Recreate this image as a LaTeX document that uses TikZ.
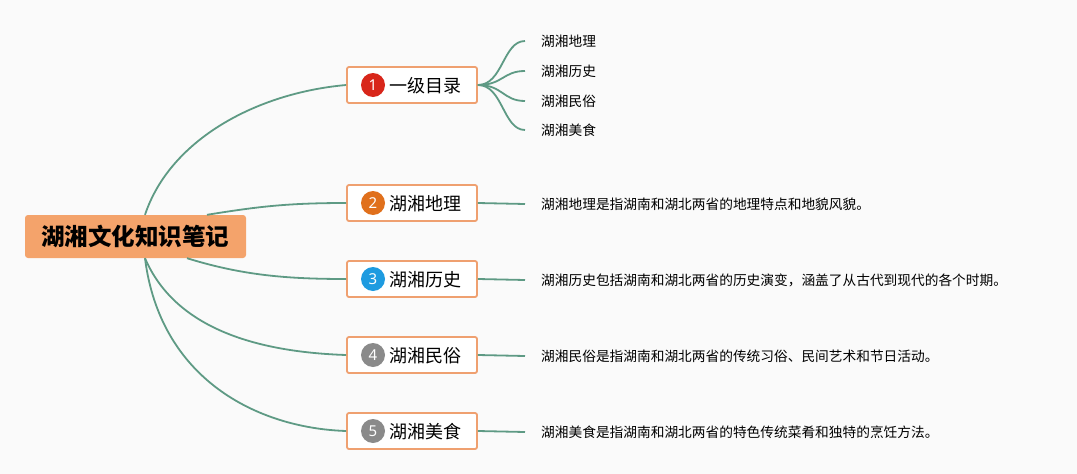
\documentclass[tikz,border=0pt]{standalone}
\usepackage{fontspec}
\setmainfont{Noto Sans CJK SC}
\newfontfamily\numfont{Noto Sans}
\definecolor{bg}{HTML}{FAFAFA}
\definecolor{rootc}{HTML}{F4A36B}
\definecolor{boxc}{HTML}{EFA070}
\definecolor{linec}{HTML}{5E9A84}
\definecolor{n1}{HTML}{D8261A}
\definecolor{n2}{HTML}{E0701C}
\definecolor{n3}{HTML}{1E9BE0}
\definecolor{n4}{HTML}{8A8A8A}
\tikzset{
  rootbox/.style={fill=rootc, rounded corners=3pt, minimum width=221pt, minimum height=43pt, inner sep=0pt, font=\fontsize{23.5}{25}\selectfont\bfseries, text=black},
  branchbox/.style={draw=boxc, line width=1.8pt, fill=white, rounded corners=2pt, minimum width=130pt, minimum height=36pt, inner sep=0pt},
  numc/.style={circle, minimum size=24pt, inner sep=0pt, text=white, font=\numfont\fontsize{15}{15}\selectfont},
  btext/.style={anchor=west, inner sep=0pt, font=\fontsize{18}{19}\selectfont},
  stext/.style={anchor=west, inner sep=0pt, font=\fontsize{13.7}{14}\selectfont},
  conn/.style={draw=linec, line width=1.8pt},
}
\begin{document}
\begin{tikzpicture}[x=1pt,y=-1pt]
\fill[bg] (0,0) rectangle (1077,474);
\useasboundingbox (0,0) rectangle (1077,474);

% root
\node[rootbox] (root) at (135.5,236.5) {湖湘文化知识笔记};

% branch boxes
\node[branchbox] (b1) at (412,85) {};
\node[branchbox] (b2) at (412,203) {};
\node[branchbox] (b3) at (412,279) {};
\node[branchbox] (b4) at (412,355) {};
\node[branchbox] (b5) at (412,431) {};

\node[numc, fill=n1] (c1) at (373,85) {1};
\node[numc, fill=n2] (c2) at (373,203) {2};
\node[numc, fill=n3] (c3) at (373,279) {3};
\node[numc, fill=n4] (c4) at (373,355) {4};
\node[numc, fill=n4] (c5) at (373,431) {5};

\node[btext] (t1) at (389,86) {一级目录};
\node[btext] (t2) at (389,204) {湖湘地理};
\node[btext] (t3) at (389,280) {湖湘历史};
\node[btext] (t4) at (389,356) {湖湘民俗};
\node[btext] (t5) at (389,432) {湖湘美食};

% sub items
\node[stext] (s1) at (541,41) {湖湘地理};
\node[stext] (s2) at (541,71) {湖湘历史};
\node[stext] (s3) at (541,101) {湖湘民俗};
\node[stext] (s4) at (541,130) {湖湘美食};

\node[stext] (d2) at (541,204) {湖湘地理是指湖南和湖北两省的地理特点和地貌风貌。};
\node[stext] (d3) at (541,280) {湖湘历史包括湖南和湖北两省的历史演变，涵盖了从古代到现代的各个时期。};
\node[stext] (d4) at (541,356) {湖湘民俗是指湖南和湖北两省的传统习俗、民间艺术和节日活动。};
\node[stext] (d5) at (541,432) {湖湘美食是指湖南和湖北两省的特色传统菜肴和独特的烹饪方法。};

% root connectors
\draw[conn] ([xshift=9.5pt]root.north) .. controls +(25,-75) and +(-90,8) .. (b1.west);
\draw[conn] ([xshift=71.5pt]root.north) .. controls +(50,-8) and +(-60,0) .. (b2.west);
\draw[conn] ([xshift=51.5pt]root.south) .. controls +(55,17) and +(-60,0) .. (b3.west);
\draw[conn] ([xshift=9.5pt]root.south) .. controls +(30,70) and +(-90,-3) .. (b4.west);
\draw[conn] ([xshift=9.5pt]root.south) .. controls +(15,120) and +(-90,-3) .. (b5.west);

% sub connectors
\draw[conn] (b1.east) .. controls +(25,0) and +(-22,0) .. ([xshift=-16pt]s1.west);
\draw[conn] (b1.east) .. controls +(25,0) and +(-22,0) .. ([xshift=-16pt]s2.west);
\draw[conn] (b1.east) .. controls +(25,0) and +(-22,0) .. ([xshift=-16pt]s3.west);
\draw[conn] (b1.east) .. controls +(25,0) and +(-22,0) .. ([xshift=-16pt]s4.west);

\draw[conn] (b2.east) -- ([xshift=-16pt]d2.west);
\draw[conn] (b3.east) -- ([xshift=-16pt]d3.west);
\draw[conn] (b4.east) -- ([xshift=-16pt]d4.west);
\draw[conn] (b5.east) -- ([xshift=-16pt]d5.west);
\end{tikzpicture}
\end{document}
